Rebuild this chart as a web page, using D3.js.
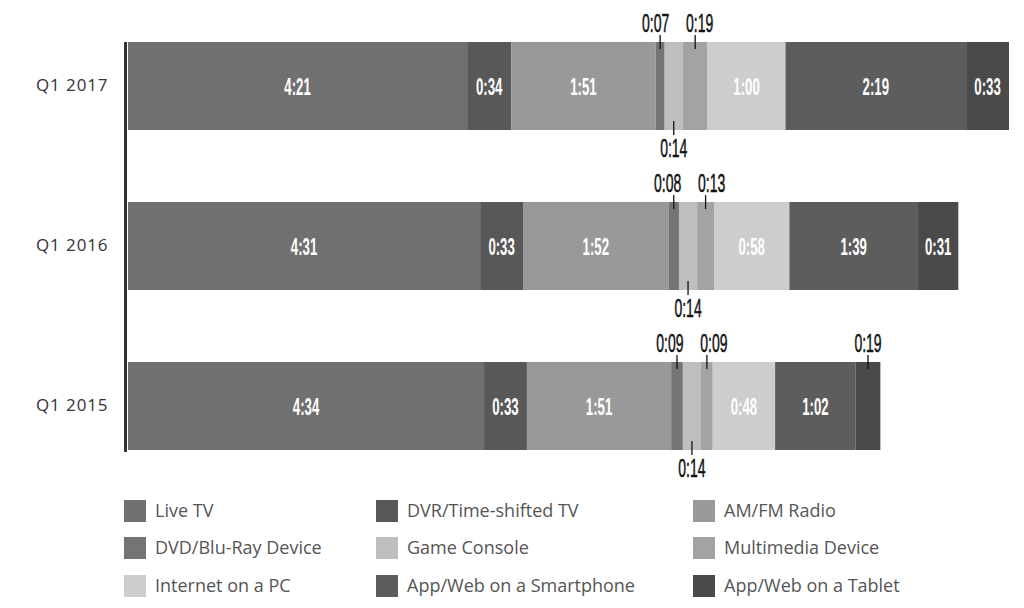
<!DOCTYPE html>
<html><head><meta charset="utf-8">
<script src="https://cdn.jsdelivr.net/npm/d3@7"></script>
<style>body{margin:0;background:#fff;}svg{display:block;}</style>
</head><body>
<svg id="chart" width="1024" height="608"></svg>
<script>
const quarters = ["Q1 2017", "Q1 2016", "Q1 2015"];
const series = ["Live TV", "DVR/Time-shifted TV", "AM/FM Radio", "DVD/Blu-Ray Device", "Game Console", "Multimedia Device", "Internet on a PC", "App/Web on a Smartphone", "App/Web on a Tablet"];
// minutes per day, per quarter, in series order
const q2017 = [261, 34, 111, 7, 14, 19, 60, 139, 33];
const q2016 = [271, 33, 112, 8, 14, 13, 58, 99, 31];
const q2015 = [274, 33, 111, 9, 14, 9, 48, 62, 19];
const colors = ["#707070", "#585858", "#999999", "#747474", "#bebebe", "#a3a3a3", "#cdcdcd", "#5d5d5d", "#4a4a4a"];

const values = [q2017, q2016, q2015];
const fmt = m => Math.floor(m / 60) + ":" + String(m % 60).padStart(2, "0");

const svg = d3.select("#chart");
const x = d3.scaleLinear().domain([0, d3.max(values, v => d3.sum(v))]).range([128, 1009]);
const y = d3.scaleBand().domain(quarters).range([42, 450]).paddingInner(0.45);

const rows = quarters.map((q, i) => {
  let acc = 0;
  return values[i].map((v, j) => { const d = {q, j, v, x0: acc, x1: acc + v}; acc += v; return d; });
});

const g = svg.append("g");
rows.forEach(row => {
  g.selectAll(null).data(row).enter().append("rect")
    .attr("x", d => x(d.x0)).attr("y", d => y(d.q))
    .attr("width", d => x(d.x1) - x(d.x0)).attr("height", y.bandwidth())
    .attr("fill", d => colors[d.j]);
});

// axis line
const yAxis = d3.axisLeft(y).tickSize(0).tickPadding(17);
const ax = svg.append("g").attr("transform", "translate(125.5,0)").call(yAxis);
ax.select(".domain").attr("d", "M0,42V452").attr("stroke", "#333").attr("stroke-width", 3);
ax.selectAll("text").attr("font-family", "'Open Sans'").attr("font-size", 17).attr("fill", "#333").attr("letter-spacing", 0.9);

function condText(sel, size, weight, fill, sx) {
  return sel.append("text").attr("transform", `scale(${sx},1)`)
    .attr("text-anchor", "middle").attr("font-family", "'Liberation Sans'")
    .attr("font-size", size).attr("font-weight", weight).attr("fill", fill);
}

rows.forEach(row => {
  const top = y(row[0].q), bot = top + y.bandwidth(), mid = top + y.bandwidth() / 2;
  // inside labels
  row.filter(d => x(d.x1) - x(d.x0) > 30).forEach(d => {
    const cx = (x(d.x0) + x(d.x1)) / 2;
    const t = g.append("g").attr("transform", `translate(${cx},${mid + 8.5})`);
    condText(t, 24, "bold", "#fff", 0.55).text(fmt(d.v));
  });
  // outside labels
  const outs = row.filter(d => x(d.x1) - x(d.x0) <= 30).map(d => ({d, cx: (x(d.x0) + x(d.x1)) / 2, below: d.j === 4}));
  const ups = outs.filter(o => !o.below);
  ups.forEach(o => o.tx = o.cx);
  for (let k = 1; k < ups.length; k++) {
    const gap = ups[k].tx - ups[k - 1].tx;
    if (gap < 44) { const s = (44 - gap) / 2; ups[k - 1].tx -= s; ups[k].tx += s; }
  }
  outs.filter(o => o.below).forEach(o => o.tx = o.cx);
  outs.forEach(o => {
    if (o.below) {
      g.append("line").attr("x1", o.cx).attr("x2", o.cx).attr("y1", bot - 9).attr("y2", bot + 5).attr("stroke", "#111").attr("stroke-width", 1.3);
      const t = g.append("g").attr("transform", `translate(${o.tx},${bot + 27})`);
      condText(t, 25, "normal", "#111", 0.56).attr("stroke", "#111").attr("stroke-width", 0.5).text(fmt(o.d.v));
    } else {
      g.append("line").attr("x1", o.cx).attr("x2", o.cx).attr("y1", top - 7).attr("y2", top + 7).attr("stroke", "#111").attr("stroke-width", 1.3);
      const t = g.append("g").attr("transform", `translate(${o.tx},${top - 10})`);
      condText(t, 25, "normal", "#111", 0.56).attr("stroke", "#111").attr("stroke-width", 0.5).text(fmt(o.d.v));
    }
  });
});

// legend (row-major, 3 columns)
const colX = [124, 376, 693];
const rowY = [500, 537, 575];
const leg = svg.append("g");
series.forEach((name, k) => {
  const cx = colX[k % 3], cy = rowY[Math.floor(k / 3)];
  leg.append("rect").attr("x", cx).attr("y", cy).attr("width", 22).attr("height", 22).attr("fill", colors[k]);
  leg.append("text").attr("x", cx + 31).attr("y", cy + 17).attr("font-family", "'Open Sans'")
    .attr("font-size", 18).attr("fill", "#555").text(name);
});
</script>
</body></html>
